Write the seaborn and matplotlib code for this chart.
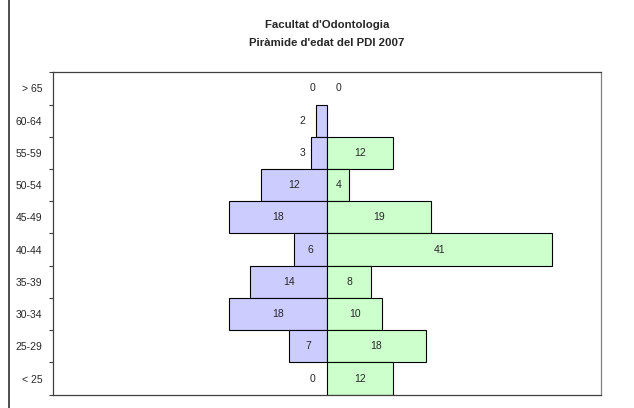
import numpy as np
import pandas as pd
import seaborn as sns
import matplotlib.pyplot as plt
from matplotlib.lines import Line2D

# Age groups (top to bottom) and counts per side
age_groups = ["> 65", "60-64", "55-59", "50-54", "45-49", "40-44", "35-39", "30-34", "25-29", "< 25"]
left_counts = [0, 2, 3, 12, 18, 6, 14, 18, 7, 0]
right_counts = [0, np.nan, 12, 4, 19, 41, 8, 10, 18, 12]

sns.set_style("white")
plt.rcParams["font.family"] = ["Liberation Sans", "DejaVu Sans"]

df = pd.concat([
    pd.DataFrame({"age": age_groups, "value": [-v for v in left_counts], "side": "left"}),
    pd.DataFrame({"age": age_groups, "value": right_counts, "side": "right"}),
], ignore_index=True)

fig = plt.figure(figsize=(6.34, 4.08), dpi=100)
ax = fig.add_axes([0.0841, 0.0326, 0.8639, 0.7902])

sns.barplot(
    data=df, x="value", y="age", hue="side", order=age_groups,
    orient="h", dodge=False, width=1.0, saturation=1,
    palette={"left": "#CCCCFF", "right": "#CCFFCC"},
    edgecolor="black", linewidth=0.8, legend=False, ax=ax,
)

# hide outlines of empty bars
for p in ax.patches:
    if abs(p.get_width()) < 1e-9:
        p.set_linewidth(0)

ax.set_xlim(-50, 50)
ax.set_ylim(len(age_groups) - 0.5, -0.5)
ax.set_xlabel("")
ax.set_ylabel("")
ax.set_xticks([])

fs = 7.5
# labels in the middle of bars, small ones outside
for i, (l, r) in enumerate(zip(left_counts, right_counts)):
    if l >= 4:
        xl = -l / 2
    elif l == 0:
        xl = -2.7
    else:
        xl = -4.5
    ax.text(xl, i, str(l), ha="center", va="center", fontsize=fs)
    if not np.isnan(r):
        xr = r / 2 if r >= 4 else 2
        ax.text(xr, i, str(int(r)), ha="center", va="center", fontsize=fs)

# ticks between categories
ax.set_yticks(range(len(age_groups)))
ax.set_yticklabels(age_groups, fontsize=fs)
ax.tick_params(axis="y", which="major", length=0, pad=8)
ax.set_yticks(np.arange(-0.5, len(age_groups), 1), minor=True)
ax.tick_params(axis="y", which="minor", length=3, width=0.8, color="#404040", left=True)

for s in ax.spines.values():
    s.set_visible(True)
    s.set_color("#404040")
    s.set_linewidth(0.9)
ax.spines["right"].set_color("#808080")

fig.text(0.5158, 0.938, "Facultat d'Odontologia", ha="center", va="center",
         fontsize=8.2, fontweight="bold")
fig.text(0.5158, 0.894, "Piràmide d'edat del PDI 2007", ha="center", va="center",
         fontsize=8.2, fontweight="bold")

fig.add_artist(Line2D([8.5 / 634, 8.5 / 634], [0, 1], color="#303030", linewidth=1.2))

fig.savefig("out.png", dpi=100, facecolor="white")
